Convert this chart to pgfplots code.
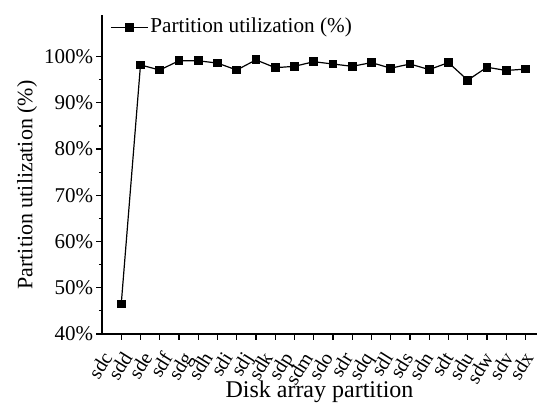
\documentclass[border=0pt]{standalone}
\usepackage{fontspec}
\setmainfont{Liberation Serif}
\usepackage{pgfplots}
\pgfplotsset{compat=1.18}

\begin{document}
\fontsize{10.5}{12.6}\selectfont
\begin{tikzpicture}
\path[use as bounding box] (-51pt,-34.5pt) rectangle (220.5pt,167pt);
\begin{axis}[
  at={(0,0)}, anchor=south west,
  scale only axis, width=217.5pt, height=159.5pt,
  xmin=-1, xmax=21.6, ymin=40, ymax=109,
  axis x line*=bottom, axis y line*=left,
  axis line style={line width=0.7pt},
  tick align=outside,
  major tick length=2.8pt, minor tick length=1.6pt,
  tick style={black, line width=0.6pt},
  ticklabel style={font=\fontsize{10.5}{12.6}\selectfont},
  xtick={0,...,21},
  xticklabels={sdc,sdd,sde,sdf,sdg,sdh,sdi,sdj,sdk,sdp,sdm,sdo,sdr,sdq,sdl,sds,sdn,sdt,sdu,sdw,sdv,sdx},
  % shifts first, so they act in the page frame, then the turn
  xticklabel style={xshift={(-4+0.405*\ticknum)*1pt}, yshift=-9pt,
    rotate=58, anchor=base east, inner sep=0pt,
    font=\fontsize{10}{12}\selectfont},
  ytick={40,50,...,100},
  yticklabels={40\%,50\%,60\%,70\%,80\%,90\%,100\%},
  minor y tick num=1,
  yticklabel style={inner sep=1.5pt},
  xlabel={Disk array partition},
  ylabel={Partition utilization (\%)},
  xlabel style={at={(axis description cs:0.5,-0.2)}, anchor=base,
    inner sep=0pt, font=\fontsize{12}{14}\selectfont},
  ylabel style={at={(axis description cs:-0.1724,0.467)}, anchor=center,
    inner sep=0pt, font=\fontsize{11}{13}\selectfont},
  legend style={draw=none, fill=none, at={(0.018,0.962)}, anchor=west,
    inner sep=0pt, nodes={inner sep=1pt},
    font=\fontsize{10.6}{12.7}\selectfont},
  legend cell align=left,
  legend image code/.code={
    \draw[mark repeat=2, mark phase=2, #1] plot coordinates {(0pt,0pt) (9.25pt,0pt) (18.5pt,0pt)};
  },
]
\addplot[black, line width=0.6pt, mark=square*, mark size=1.9pt,
  mark options={solid}] coordinates {
  (0,46.5) (1,98.2) (2,97.1) (3,99.1) (4,99.1) (5,98.6) (6,97.1) (7,99.3)
  (8,97.6) (9,97.9) (10,98.9) (11,98.4) (12,97.9) (13,98.7) (14,97.5)
  (15,98.4) (16,97.2) (17,98.7) (18,94.9) (19,97.7) (20,97.0) (21,97.3)
};
\addlegendentry{Partition utilization (\%)}
\end{axis}
\end{tikzpicture}
\end{document}
